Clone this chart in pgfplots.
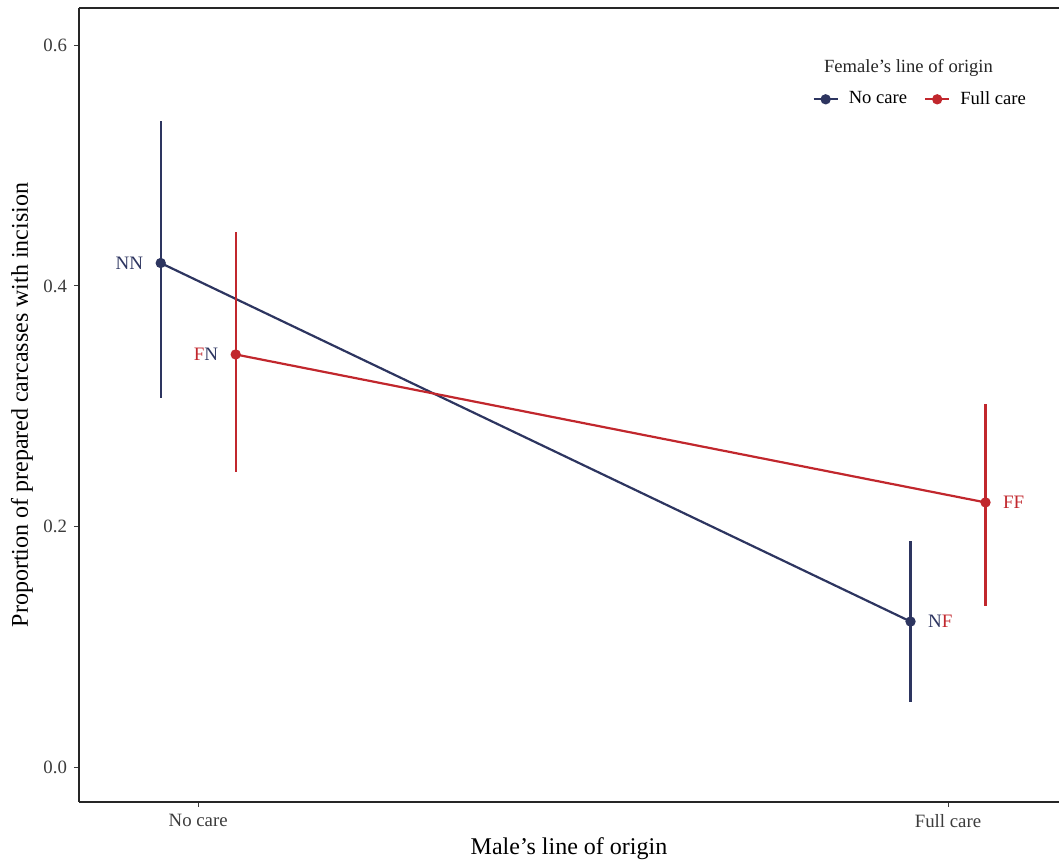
\documentclass[border=0pt]{standalone}
\usepackage{pgfplots}
\pgfplotsset{compat=1.18}
\usepackage{pgfplotstable}
\usepackage{fontspec}
\setmainfont{Liberation Serif}
\definecolor{navy}{RGB}{45,53,96}
\definecolor{cred}{RGB}{193,39,45}
\definecolor{tickgray}{RGB}{60,60,60}

% x, y, error plus, error minus
\pgfplotstableread{
x y ep em
0.95 0.419 0.118 0.112
1.95 0.121 0.067 0.067
}\nocare
\pgfplotstableread{
x y ep em
1.05 0.343 0.102 0.098
2.05 0.220 0.082 0.086
}\fullcare

\begin{document}
\begin{tikzpicture}
\begin{axis}[
  scale only axis,
  width=490pt, height=397pt,
  xmin=0.841, xmax=2.148,
  ymin=-0.029, ymax=0.631,
  axis lines*=left,
  axis line style={line width=0.8pt, black!85},
  xtick={1,2}, xticklabels={No care, Full care},
  ytick={0,0.2,0.4,0.6},
  yticklabel style={/pgf/number format/.cd, fixed, fixed zerofill, precision=1},
  /pgf/number format/assume math mode=true,
  tick align=outside,
  major tick length=2.5pt,
  tick style={line width=0.5pt, tickgray},
  ticklabel style={font=\fontsize{9.4}{11}\selectfont, text=tickgray},
  xlabel={Male’s line of origin},
  ylabel={Proportion of prepared carcasses with incision},
  every axis x label/.style={at={(rel axis cs:0.5,0)}, yshift=-23.5pt, anchor=center, font=\fontsize{12}{14}\selectfont},
  every axis y label/.style={at={(rel axis cs:0,0.5)}, xshift=-28.5pt, rotate=90, anchor=center, font=\fontsize{12}{14}\selectfont},
  clip=false,
  legend style={at={(rel axis cs:0.742,0.885)}, anchor=west, draw=none, fill=none,
    font=\fontsize{9.3}{11}\selectfont, legend columns=2,
    /tikz/every odd column/.append style={column sep=3pt},
    /tikz/every even column/.append style={column sep=6.5pt}},
  legend image code/.code={\draw[#1, mark repeat=2, mark phase=2] plot coordinates {(0pt,0pt) (6pt,0pt) (12pt,0pt)};},
]
\addplot[navy, line width=1.1pt, mark=*, mark size=2pt,
  error bars/.cd, y dir=both, y explicit, error mark=none,
  error bar style={line width=1.2pt, navy}]
  table[x=x, y=y, y error plus=ep, y error minus=em] {\nocare};
\addlegendentry{No care}
\addplot[cred, line width=1.1pt, mark=*, mark size=2pt,
  error bars/.cd, y dir=both, y explicit, error mark=none,
  error bar style={line width=1.2pt, cred}]
  table[x=x, y=y, y error plus=ep, y error minus=em] {\fullcare};
\addlegendentry{Full care}
\draw[line width=0.8pt, black!85] (rel axis cs:0,1) -- (rel axis cs:1,1);
\node[anchor=west, font=\fontsize{9.3}{11}\selectfont, text=black!85] at (rel axis cs:0.753,0.924) {Female’s line of origin};
\node[anchor=east, font=\fontsize{9.5}{11}\selectfont] at (axis cs:0.936,0.419) {\textcolor{navy}{NN}};
\node[anchor=east, font=\fontsize{9.5}{11}\selectfont] at (axis cs:1.036,0.343) {\textcolor{cred}{F}\textcolor{navy}{N}};
\node[anchor=west, font=\fontsize{9.5}{11}\selectfont] at (axis cs:1.964,0.121) {\textcolor{navy}{N}\textcolor{cred}{F}};
\node[anchor=west, font=\fontsize{9.5}{11}\selectfont] at (axis cs:2.064,0.220) {\textcolor{cred}{FF}};
\coordinate (sw) at (rel axis cs:0,0);
\coordinate (ne) at (rel axis cs:1,1);
\end{axis}
\pgfresetboundingbox
\path[use as bounding box] ([xshift=-39.5pt,yshift=-30.5pt]sw) rectangle ([yshift=4pt]ne);
\end{tikzpicture}
\end{document}
